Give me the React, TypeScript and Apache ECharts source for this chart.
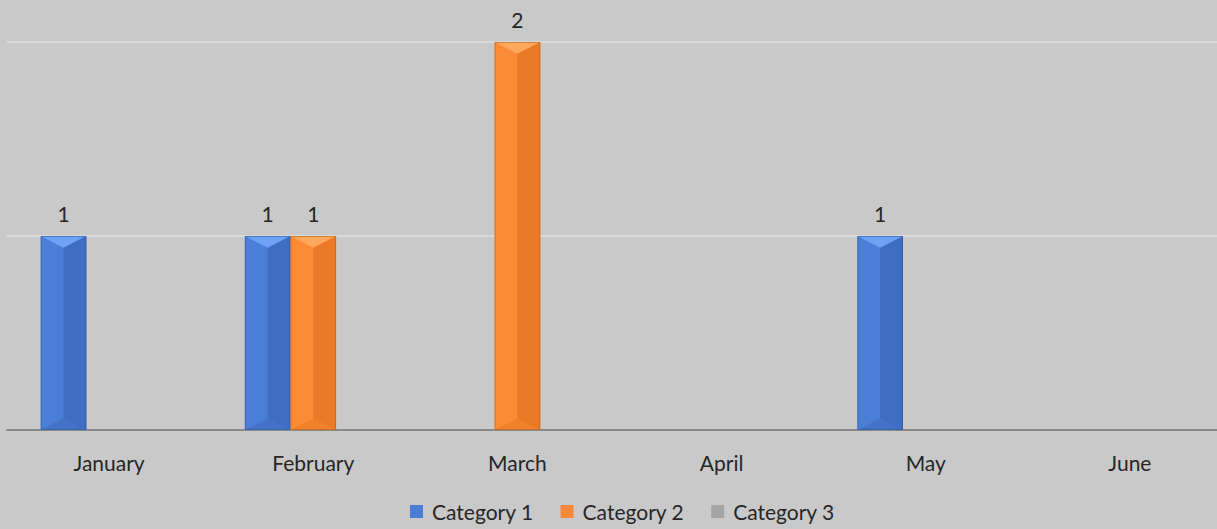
import React, { useEffect, useRef } from "react";
import * as echarts from "echarts";

const months = ["January", "February", "March", "April", "May", "June"];
const category1 = [1, 1, 0, 0, 1, 0];
const category2 = [0, 1, 2, 0, 0, 0];
const category3 = [0, 0, 0, 0, 0, 0];
const seriesNames = ["Category 1", "Category 2", "Category 3"];
const seriesValues = [category1, category2, category3];
const yTicks = [0, 1, 2];

const FONT = "Lato, 'Liberation Sans', sans-serif";
const FONT_SIZE = 21;

const palettes = [
  { base: "#4a7dd4", left: "#4a7fd8", right: "#3e6dc2", top: "#6fa1f4", bottom: "#4372c6", edge: "#2f5597" },
  { base: "#f5883a", left: "#fb8b37", right: "#ea7a27", top: "#fda85d", bottom: "#f0812d", edge: "#b65d1b" },
  { base: "#a5a5a5", left: "#acacac", right: "#989898", top: "#c8c8c8", bottom: "#9f9f9f", edge: "#7a7a7a" },
];

function makeRenderItem(si: number) {
  const p = palettes[si];
  return (params: any, api: any) => {
    const idx = api.value(0);
    const val = api.value(1);
    if (!val) return null;
    const band = api.size([1, 0])[0];
    const bw = (band * 0.67) / 3;
    const c = api.coord([idx, 0]);
    const t = api.coord([idx, val]);
    const x0 = c[0] - 1.5 * bw + si * bw;
    const x1 = x0 + bw;
    const xm = (x0 + x1) / 2;
    const y0 = t[1];
    const y1 = c[1];
    const d = Math.min(bw * 0.26, (y1 - y0) / 2);
    return {
      type: "group",
      children: [
        { type: "rect", shape: { x: x0, y: y0, width: bw, height: y1 - y0 }, style: { fill: p.left } },
        { type: "rect", shape: { x: xm, y: y0, width: x1 - xm, height: y1 - y0 }, style: { fill: p.right } },
        { type: "polygon", shape: { points: [[x0, y0], [x1, y0], [xm, y0 + d]] }, style: { fill: p.top } },
        { type: "polygon", shape: { points: [[x0, y1], [x1, y1], [xm, y1 - d]] }, style: { fill: p.bottom } },
        {
          type: "rect",
          shape: { x: x0 + 0.5, y: y0 + 0.5, width: bw - 1, height: y1 - y0 - 1 },
          style: { fill: "none", stroke: p.edge, lineWidth: 1, opacity: 0.55 },
        },
        {
          type: "text",
          style: {
            text: String(val),
            x: xm,
            y: y0 - 23,
            align: "center",
            verticalAlign: "middle",
            fontSize: FONT_SIZE,
            fontFamily: FONT,
            fill: "#262626",
          },
        },
      ],
    };
  };
}

export default function App() {
  const ref = useRef<HTMLDivElement>(null);
  useEffect(() => {
    if (!ref.current) return;
    const chart = echarts.init(ref.current, null, { renderer: "svg" });
    chart.setOption({
      animation: false,
      backgroundColor: "#c9c9c9",
      grid: { left: 7, right: 0, top: 42, bottom: 99, containLabel: false },
      legend: {
        bottom: 2,
        left: 405,
        icon: "rect",
        itemWidth: 13,
        itemHeight: 13,
        itemGap: 27,
        textStyle: {
          fontSize: FONT_SIZE,
          fontFamily: FONT,
          color: "#262626",
          padding: [0, 0, 0, 4],
        },
        data: seriesNames,
      },
      xAxis: {
        type: "category",
        data: months,
        axisTick: { show: false },
        axisLine: { lineStyle: { color: "#898989", width: 2 } },
        axisLabel: { fontSize: FONT_SIZE, fontFamily: FONT, color: "#262626", margin: 22 },
      },
      yAxis: {
        type: "value",
        min: yTicks[0],
        max: yTicks[yTicks.length - 1],
        interval: 1,
        axisLabel: { show: false },
        axisTick: { show: false },
        axisLine: { show: false },
        splitLine: { lineStyle: { color: "#dadada", width: 2 } },
      },
      series: seriesNames.map((name, si) => ({
        type: "custom",
        name,
        itemStyle: { color: palettes[si].base },
        encode: { x: 0, y: 1 },
        data: seriesValues[si].map((v, i) => [i, v]),
        renderItem: makeRenderItem(si),
      })),
    });
    return () => chart.dispose();
  }, []);
  return (
    <div
      style={{
        position: "absolute",
        left: 0,
        top: 0,
        width: 1217,
        height: 529,
        overflow: "hidden",
        background: "#c9c9c9",
      }}
    >
      <div ref={ref} style={{ width: 1232, height: 529 }} />
    </div>
  );
}
